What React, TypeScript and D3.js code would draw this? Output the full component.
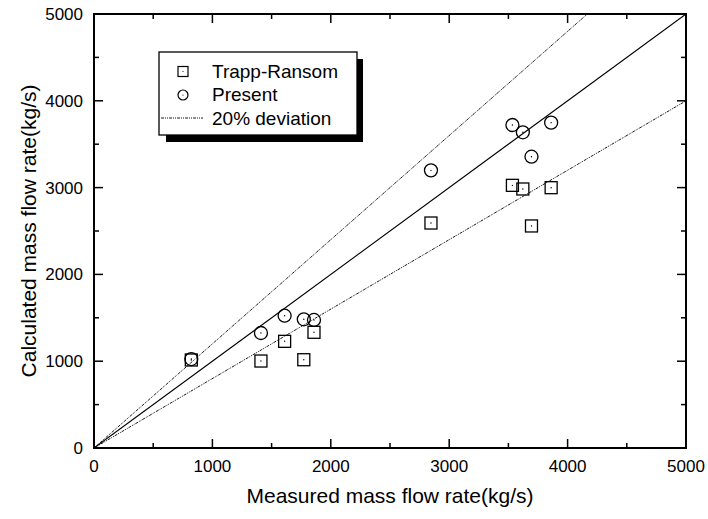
import React from "react";
import * as d3 from "d3";

const xTicks = [0, 1000, 2000, 3000, 4000, 5000];
const yTicks = [0, 1000, 2000, 3000, 4000, 5000];
const minorTicks = [500, 1500, 2500, 3500, 4500];

const measured = [822, 1410, 1610, 1772, 1858, 2846, 3534, 3622, 3695, 3861];
const trappRansom = [1014, 1002, 1229, 1017, 1333, 2592, 3026, 2984, 2558, 2999];
const present = [1025, 1325, 1524, 1483, 1475, 3199, 3721, 3637, 3356, 3748];

const refLines = [
  { name: "ideal", factor: 1.0, dashed: false },
  { name: "upper", factor: 1.2, dashed: true },
  { name: "lower", factor: 0.8, dashed: true },
];

const W = 708;
const H = 519;
const L = 94, R = 686, T = 14, B = 448;
const FONT = "Liberation Sans, Arial, sans-serif";
const DASH = "3,1,1,1,1,1";

export default function App() {
  const x = d3.scaleLinear().domain([0, 5000]).range([L, R]);
  const y = d3.scaleLinear().domain([0, 5000]).range([B, T]);
  const line = d3.line<[number, number]>().x(d => x(d[0])).y(d => y(d[1]));

  const sq = 6;
  const cr = 6.5;

  return (
    <svg width={W} height={H} style={{ position: "absolute", left: 0, top: 0, background: "#fff" }}>
      <defs>
        <clipPath id="plot">
          <rect x={L} y={T} width={R - L} height={B - T} />
        </clipPath>
      </defs>
      <rect x={0} y={0} width={W} height={H} fill="#fff" />
      <g clipPath="url(#plot)">
        {refLines.map(r => (
          <path
            key={r.name}
            d={line([[0, 0], [5000, 5000 * r.factor]]) || ""}
            fill="none"
            stroke="#000"
            strokeWidth={r.dashed ? 0.9 : 1.1}
            strokeDasharray={r.dashed ? DASH : undefined}
          />
        ))}
      </g>
      {measured.map((m, i) => (
        <g key={"s" + i}>
          <rect x={x(m) - sq} y={y(trappRansom[i]) - sq} width={sq * 2} height={sq * 2} fill="none" stroke="#000" strokeWidth={1.3} />
          <circle cx={x(m)} cy={y(trappRansom[i])} r={0.7} fill="#000" />
        </g>
      ))}
      {measured.map((m, i) => (
        <g key={"c" + i}>
          <circle cx={x(m)} cy={y(present[i])} r={cr} fill="none" stroke="#000" strokeWidth={1.3} />
          <circle cx={x(m)} cy={y(present[i])} r={0.7} fill="#000" />
        </g>
      ))}
      <rect x={L} y={T} width={R - L} height={B - T} fill="none" stroke="#000" strokeWidth={2} />
      {xTicks.map(t => (
        <g key={"xt" + t}>
          <line x1={x(t)} x2={x(t)} y1={B} y2={B - 9} stroke="#000" strokeWidth={1.5} />
          <line x1={x(t)} x2={x(t)} y1={T} y2={T + 9} stroke="#000" strokeWidth={1.5} />
          <text x={x(t)} y={472} textAnchor="middle" fontFamily={FONT} fontSize={17}>{t}</text>
        </g>
      ))}
      {minorTicks.map(t => (
        <g key={"xm" + t}>
          <line x1={x(t)} x2={x(t)} y1={B} y2={B - 5} stroke="#000" strokeWidth={1.5} />
          <line x1={x(t)} x2={x(t)} y1={T} y2={T + 5} stroke="#000" strokeWidth={1.5} />
          <line x1={L} x2={L + 5} y1={y(t)} y2={y(t)} stroke="#000" strokeWidth={1.5} />
          <line x1={R} x2={R - 5} y1={y(t)} y2={y(t)} stroke="#000" strokeWidth={1.5} />
        </g>
      ))}
      {yTicks.map(t => (
        <g key={"yt" + t}>
          <line x1={L} x2={L + 9} y1={y(t)} y2={y(t)} stroke="#000" strokeWidth={1.5} />
          <line x1={R} x2={R - 9} y1={y(t)} y2={y(t)} stroke="#000" strokeWidth={1.5} />
          <text x={83} y={y(t) + 6} textAnchor="end" fontFamily={FONT} fontSize={17}>{t}</text>
        </g>
      ))}
      <text x={(L + R) / 2} y={503} textAnchor="middle" fontFamily={FONT} fontSize={21}>Measured mass flow rate(kg/s)</text>
      <text transform={`translate(36,${(T + B) / 2}) rotate(-90)`} textAnchor="middle" fontFamily={FONT} fontSize={21}>Calculated mass flow rate(kg/s)</text>
      <rect x={166} y={59} width={197} height={83} fill="#000" />
      <rect x={159} y={52} width={198} height={83} fill="#fff" stroke="#000" strokeWidth={1.3} />
      <rect x={178} y={66.5} width={10} height={10} fill="none" stroke="#000" strokeWidth={1.2} />
      <circle cx={183} cy={71.5} r={0.6} fill="#000" />
      <text x={212} y={77.5} fontFamily={FONT} fontSize={19}>Trapp-Ransom</text>
      <circle cx={183} cy={95} r={5} fill="none" stroke="#000" strokeWidth={1.2} />
      <circle cx={183} cy={95} r={0.6} fill="#000" />
      <text x={212} y={101} fontFamily={FONT} fontSize={19}>Present</text>
      <line x1={161} x2={203} y1={118} y2={118} stroke="#000" strokeWidth={0.9} strokeDasharray={DASH} />
      <text x={212} y={124.5} fontFamily={FONT} fontSize={19}>20% deviation</text>
    </svg>
  );
}
